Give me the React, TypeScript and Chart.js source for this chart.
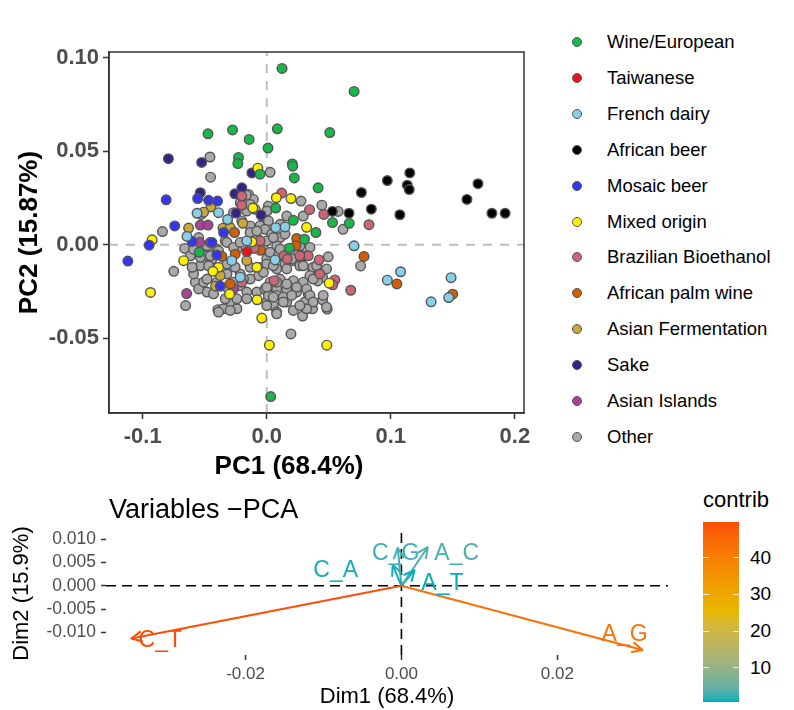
import React, { useEffect, useRef } from "react";
import { Chart, registerables } from "chart.js";
Chart.register(...registerables);

const FONT = '"Liberation Sans", Arial, Helvetica, sans-serif';
Chart.defaults.font.family = FONT;

// ---------------- PCA of samples (top) ----------------
const groupNames = [
  "Wine/European", "Taiwanese", "French dairy", "African beer", "Mosaic beer", "Mixed origin",
  "Brazilian Bioethanol", "African palm wine", "Asian Fermentation", "Sake", "Asian Islands", "Other",
];
const groupColors = [
  "#17B84B", "#E8141A", "#87CEEB", "#000000", "#3236F0", "#FFF000",
  "#CC6677", "#D55E00", "#C9A93C", "#332288", "#AA4499", "#A9A9A9",
];

const wineEuropean = [[0.0123,0.0943],[0.0704,0.0820],[-0.0474,0.0593],[-0.0276,0.0614],[-0.0142,0.0563],[0.0085,0.0620],[0.0010,0.0517],[0.0508,0.0600],[-0.0228,0.0467],[-0.0233,0.0434],[0.0206,0.0432],[0.0209,0.0420],[0.0222,0.0357],[-0.0054,0.0377],[0.0414,0.0304],[0.0072,0.0196],[0.0214,0.0130],[0.0530,0.0118],[0.0665,0.0114],[0.0396,0.0065],[0.0304,0.0029],[0.0182,-0.0019],[-0.0544,-0.0041],[0.0032,-0.0813]];
const taiwanese = [[-0.0161,-0.0037]];
const frenchDairy = [[0.0704,-0.0006],[0.1079,-0.0145],[0.0972,-0.0190],[0.1486,-0.0177],[0.1325,-0.0306],[0.1467,-0.0283],[0.0147,0.0095],[0.0067,-0.0082],[-0.0562,0.0168],[-0.0389,0.0171],[0.0072,0.0091],[-0.0282,-0.0086],[-0.0161,0.0020],[-0.0643,0.0044],[-0.0316,0.0134],[-0.0214,-0.0174]];
const africanBeer = [[0.1153,0.0384],[0.0972,0.0343],[0.1133,0.0318],[0.1149,0.0295],[0.0763,0.0279],[0.1703,0.0326],[0.1614,0.0242],[0.1815,0.0168],[0.1922,0.0168],[0.0843,0.0190],[0.1073,0.0160],[0.0663,0.0168],[0.0529,0.0178]];
const mosaicBeer = [[-0.1120,-0.0088],[-0.0948,-0.0003],[-0.0742,0.0100],[-0.0811,0.0240],[-0.0557,0.0247],[-0.0469,0.0237],[-0.0397,0.0233],[-0.0602,0.0017],[-0.0442,0.0012],[-0.0375,-0.0222],[-0.0348,0.0065],[-0.0402,-0.0056]];
const mixedOrigin = [[-0.0924,0.0026],[-0.0937,-0.0256],[-0.0670,-0.0086],[-0.0072,0.0409],[0.0077,0.0251],[0.0195,0.0247],[-0.0112,0.0196],[0.0321,0.0093],[0.0503,-0.0206],[0.0484,-0.0538],[-0.0040,-0.0393],[0.0021,-0.0538],[-0.0078,-0.0295],[-0.0389,-0.0121],[-0.0434,-0.0143],[-0.0300,-0.0265],[-0.0080,-0.0121],[-0.0120,0.0015]];
const brazilianBioethanol = [[0.0120,0.0276],[0.0345,0.0187],[-0.0201,0.0212],[0.0460,0.0162],[0.0824,0.0107],[0.0677,-0.0244],[0.0549,-0.0189],[0.0532,-0.0215],[0.0422,-0.0082],[0.0334,-0.0060],[0.0139,-0.0060],[0.0165,-0.0077],[0.0059,-0.0193],[0.0428,-0.0157],[-0.0102,-0.0020],[-0.0201,-0.0201],[-0.0054,0.0020],[0.0267,-0.0060],[-0.0201,0.0260]];
const africanPalmWine = [[0.0784,-0.0063],[0.1049,-0.0210],[0.1499,-0.0265],[0.0241,0.0033],[0.0235,-0.0006],[-0.0361,-0.0063],[-0.0255,-0.0051],[-0.0260,0.0065],[-0.0050,-0.0030],[-0.0295,-0.0210]];
const asianFermentation = [[-0.0450,0.0202],[-0.0528,0.0162],[-0.0630,0.0089],[-0.0375,-0.0166],[-0.0413,-0.0222],[-0.0161,-0.0086],[-0.0353,0.0088],[-0.0295,0.0091],[-0.0509,0.0174],[-0.0193,0.0114]];
const sake = [[-0.0793,0.0460],[-0.0525,0.0440],[-0.0120,0.0384],[-0.0536,0.0278],[-0.0257,0.0272],[-0.0201,0.0304],[-0.0247,0.0169],[-0.0046,0.0159]];
const asianIslands = [[-0.0646,-0.0262],[-0.0536,0.0105],[-0.0474,0.0105],[-0.0268,-0.0237],[-0.0541,0.0012],[-0.0455,0.0012]];
const other = [[-0.0458,0.0469],[-0.0453,0.0361],[0.0027,0.0387],[0.0276,0.0233],[0.0005,0.0184],[0.0575,0.0178],[0.0444,0.0211],[0.0615,0.0082],[0.0757,-0.0114],[0.0495,-0.0065],[0.0369,-0.0127],[0.0450,-0.0174],[0.0410,-0.0194],[0.0334,-0.0263],[0.0308,-0.0307],[0.0450,-0.0295],[0.0487,-0.0345],[0.0369,-0.0343],[0.0289,-0.0382],[0.0195,-0.0478],[-0.0841,0.0070],[-0.0750,-0.0143],[-0.0654,-0.0326],[-0.0394,-0.0348],[-0.0300,-0.0348],[-0.0263,-0.0334],[-0.0662,-0.0020],
[-0.0148,0.0269],[-0.0108,0.0242],[-0.0161,0.0180],[-0.0094,0.0189],[-0.0201,0.0127],[-0.0134,0.0100],[-0.0054,0.0100],[-0.0080,0.0038],[-0.0027,-0.0024],[0.0000,-0.0077],[-0.0040,-0.0121],[-0.0067,-0.0166],[-0.0134,-0.0184],[-0.0214,-0.0157],[-0.0255,-0.0121],[-0.0321,-0.0104],[-0.0321,-0.0157],[-0.0214,-0.0219],[-0.0295,-0.0307],[-0.0241,-0.0343],[-0.0349,-0.0343],[-0.0482,-0.0254],[-0.0576,-0.0201],[-0.0590,-0.0157],[-0.0536,-0.0113],[-0.0616,-0.0060],[-0.0549,0.0038],[-0.0482,-0.0006],[-0.0442,-0.0077],[-0.0335,0.0020],[-0.0402,-0.0024],[-0.0241,-0.0024],[-0.0134,-0.0121],[0.0000,-0.0246],[0.0000,-0.0307],[-0.0080,-0.0254],[-0.0161,-0.0254],[-0.0549,-0.0237],[-0.0509,-0.0201],[-0.0602,-0.0121],[-0.0496,-0.0060],[-0.0469,-0.0113],[-0.0308,0.0100],[-0.0268,0.0171],[-0.0040,0.0153],[0.0013,0.0206],[-0.0134,0.0215],[-0.0214,0.0224],[-0.0389,-0.0361],[-0.0295,-0.0352],
[0.0000,0.0180],[0.0013,0.0127],[-0.0014,0.0082],[0.0040,0.0056],[0.0000,0.0020],[0.0107,0.0038],[0.0080,-0.0006],[0.0027,-0.0041],[0.0093,-0.0060],[0.0187,-0.0033],[0.0267,-0.0006],[0.0348,-0.0015],[0.0294,-0.0060],[0.0214,-0.0086],[0.0147,-0.0104],[0.0080,-0.0130],[0.0000,-0.0104],[0.0267,-0.0113],[0.0374,-0.0121],[0.0482,-0.0130],[0.0348,-0.0166],[0.0294,-0.0201],[0.0214,-0.0193],[0.0107,-0.0184],[0.0027,-0.0201],[-0.0014,-0.0237],[0.0080,-0.0237],[0.0161,-0.0237],[0.0241,-0.0254],[0.0321,-0.0237],[0.0348,-0.0272],[0.0455,-0.0272],[0.0374,-0.0307],[0.0321,-0.0343],[0.0161,-0.0307],[0.0080,-0.0272],[0.0053,-0.0326],[0.0080,-0.0361],[0.0000,-0.0326],[0.0214,-0.0352],[0.0482,-0.0334],[0.0013,-0.0272],
[-0.0590,-0.0024],[-0.0536,-0.0068],[-0.0455,-0.0060],[-0.0389,-0.0033],[-0.0321,0.0012],[-0.0268,-0.0015],[-0.0214,0.0012],[-0.0134,0.0065],[-0.0080,0.0073],[0.0107,0.0109],[0.0053,0.0038],[0.0147,0.0056],[0.0107,-0.0024],[0.0201,-0.0077],[0.0294,-0.0113],[0.0161,-0.0130],[0.0053,-0.0113],[-0.0027,-0.0148],[-0.0188,-0.0184],[-0.0268,-0.0201],[-0.0321,-0.0228],[-0.0402,-0.0201],[-0.0482,-0.0184],[-0.0429,-0.0263],[-0.0335,-0.0290],[-0.0241,-0.0290],[-0.0161,-0.0290],[0.0000,-0.0228],[0.0080,-0.0201],[0.0161,-0.0210],[0.0241,-0.0228],[0.0267,-0.0326],[0.0133,-0.0281],[0.0053,-0.0281],[0.0080,-0.0370],[0.0133,-0.0307],[0.0201,-0.0272],[0.0374,-0.0184],[0.0402,-0.0113],
[-0.0166,0.0265],[0.0161,0.0153],[0.0294,0.0153]];

const groupData = [wineEuropean, taiwanese, frenchDairy, africanBeer, mosaicBeer, mixedOrigin,
  brazilianBioethanol, africanPalmWine, asianFermentation, sake, asianIslands, other];

const pcXTicks = [-0.1, 0.0, 0.1, 0.2];
const pcYTicks = [-0.05, 0.0, 0.05, 0.10];
const pcXRange = [-0.1272, 0.2074];
const pcYRange = [-0.0901, 0.1031];

// ---------------- Variables PCA (bottom) ----------------
const varNames = ["C_T", "A_G", "C_A", "C_G", "A_C", "A_T"];
const varDim1 = [-0.03465, 0.03094, -0.00112, -0.00047, 0.00337, 0.00167];
const varDim2 = [-0.01127, -0.01374, 0.00444, 0.00810, 0.00825, 0.00332];
const varContrib = [49.8, 43.5, 0.9, 2.2, 3.0, 0.74];
const varLabelOffsets = [[29, 2], [-18, -15], [-57, 6], [-2, 6], [29, 6.5], [28, 13]];
const dimXTicks = [-0.02, 0.0, 0.02];
const dimYTicks = [-0.010, -0.005, 0.0, 0.005, 0.010];
const dimXRange = [-0.0379, 0.0342];
const dimYRange = [-0.0148, 0.0115];
const contribTicks = [10, 20, 30, 40];
const gradientColors = ["#00AFBB", "#E7B800", "#FC4E07"];

// ---- colour helpers (Lab interpolation like ggplot's gradientn) ----
function hexToRgb(h: string) { const n = parseInt(h.slice(1), 16); return [(n >> 16) & 255, (n >> 8) & 255, n & 255]; }
function toLin(c: number) { c /= 255; return c <= 0.04045 ? c / 12.92 : Math.pow((c + 0.055) / 1.055, 2.4); }
function fromLin(c: number) { const v = c <= 0.0031308 ? 12.92 * c : 1.055 * Math.pow(Math.max(c, 0), 1 / 2.4) - 0.055; return Math.round(Math.min(1, Math.max(0, v)) * 255); }
function rgbToLab(hex: string) {
  const [r, g, b] = hexToRgb(hex).map(toLin);
  const X = (0.4124564 * r + 0.3575761 * g + 0.1804375 * b) / 0.95047;
  const Y = 0.2126729 * r + 0.7151522 * g + 0.072175 * b;
  const Z = (0.0193339 * r + 0.119192 * g + 0.9503041 * b) / 1.08883;
  const f = (t: number) => (t > 216 / 24389 ? Math.cbrt(t) : ((24389 / 27) * t + 16) / 116);
  const fx = f(X), fy = f(Y), fz = f(Z);
  return [116 * fy - 16, 500 * (fx - fy), 200 * (fy - fz)];
}
function labToCss(L: number, a: number, b: number) {
  const fy = (L + 16) / 116, fx = fy + a / 500, fz = fy - b / 200;
  const finv = (t: number) => (t * t * t > 216 / 24389 ? t * t * t : (116 * t - 16) / (24389 / 27));
  const X = finv(fx) * 0.95047, Y = finv(fy), Z = finv(fz) * 1.08883;
  const r = 3.2404542 * X - 1.5371385 * Y - 0.4985314 * Z;
  const g = -0.969266 * X + 1.8760108 * Y + 0.041556 * Z;
  const bb = 0.0556434 * X - 0.2040259 * Y + 1.0572252 * Z;
  return `rgb(${fromLin(r)},${fromLin(g)},${fromLin(bb)})`;
}
const labStops = gradientColors.map(rgbToLab);
const cMin = Math.min(...varContrib), cMax = Math.max(...varContrib);
function contribColor(v: number) {
  let t = (v - cMin) / (cMax - cMin);
  t = Math.min(1, Math.max(0, t));
  const seg = t < 0.5 ? 0 : 1;
  const u = seg === 0 ? t * 2 : (t - 0.5) * 2;
  const A = labStops[seg], B = labStops[seg + 1];
  return labToCss(A[0] + (B[0] - A[0]) * u, A[1] + (B[1] - A[1]) * u, A[2] + (B[2] - A[2]) * u);
}

// ---------------- plugins ----------------
const topDecor = {
  id: "topDecor",
  beforeDatasetsDraw(chart: any) {
    const { ctx, chartArea: a, scales: { x, y } } = chart;
    ctx.save();
    ctx.strokeStyle = "#BEBEBE"; ctx.lineWidth = 2; ctx.setLineDash([9, 8]);
    const x0 = x.getPixelForValue(0), y0 = y.getPixelForValue(0);
    ctx.beginPath(); ctx.moveTo(x0, a.bottom); ctx.lineTo(x0, a.top); ctx.stroke();
    ctx.beginPath(); ctx.moveTo(a.left, y0); ctx.lineTo(a.right, y0); ctx.stroke();
    ctx.restore();
  },
  afterDraw(chart: any) {
    const { ctx, chartArea: a } = chart;
    ctx.save(); ctx.strokeStyle = "#333333"; ctx.lineWidth = 1.5;
    ctx.strokeRect(a.left, a.top, a.right - a.left, a.bottom - a.top);
    ctx.restore();
  },
};

const bottomDecor = {
  id: "bottomDecor",
  beforeDatasetsDraw(chart: any) {
    const { ctx, chartArea: a, scales: { x, y } } = chart;
    ctx.save();
    ctx.strokeStyle = "#000000"; ctx.lineWidth = 1.6; ctx.setLineDash([10, 6]);
    const x0 = x.getPixelForValue(0), y0 = y.getPixelForValue(0);
    ctx.beginPath(); ctx.moveTo(x0, a.bottom); ctx.lineTo(x0, a.top); ctx.stroke();
    ctx.beginPath(); ctx.moveTo(a.left, y0); ctx.lineTo(a.right, y0); ctx.stroke();
    ctx.restore();
  },
  afterDatasetsDraw(chart: any) {
    const { ctx, scales: { x, y } } = chart;
    chart.data.datasets.forEach((ds: any, i: number) => {
      const p0 = ds.data[0], p1 = ds.data[1];
      const x0 = x.getPixelForValue(p0.x), y0 = y.getPixelForValue(p0.y);
      const x1 = x.getPixelForValue(p1.x), y1 = y.getPixelForValue(p1.y);
      const ang = Math.atan2(y1 - y0, x1 - x0);
      const L = 11, A = Math.PI / 7;
      ctx.save();
      ctx.strokeStyle = ds.borderColor; ctx.lineWidth = 2; ctx.lineCap = "round"; ctx.lineJoin = "round";
      ctx.beginPath();
      ctx.moveTo(x1 - L * Math.cos(ang - A), y1 - L * Math.sin(ang - A));
      ctx.lineTo(x1, y1);
      ctx.lineTo(x1 - L * Math.cos(ang + A), y1 - L * Math.sin(ang + A));
      ctx.stroke();
      ctx.fillStyle = ds.borderColor;
      ctx.font = `23px ${FONT}`; ctx.textAlign = "center"; ctx.textBaseline = "middle";
      const off = varLabelOffsets[i];
      ctx.fillText(ds.label, x1 + off[0], y1 + off[1]);
      ctx.restore();
    });
  },
};

export default function App() {
  const topRef = useRef<HTMLCanvasElement>(null);
  const botRef = useRef<HTMLCanvasElement>(null);

  useEffect(() => {
    const top = new Chart(topRef.current as HTMLCanvasElement, {
      type: "scatter",
      data: {
        datasets: groupNames.map((name, i) => ({
          label: name,
          data: groupData[i].map(([x, y]) => ({ x, y })),
          backgroundColor: groupColors[i],
          borderColor: "#555555",
          borderWidth: 1.4,
          pointRadius: 4.8,
          pointHoverRadius: 4.8,
        })),
      },
      options: {
        responsive: false,
        animation: false,
        events: [],
        layout: { padding: { top: 52, right: 21, left: 0, bottom: 0 } },
        plugins: { legend: { display: false }, tooltip: { enabled: false } },
        scales: {
          x: {
            type: "linear", min: pcXRange[0], max: pcXRange[1],
            afterFit: (s: any) => { s.height = 67; },
            afterBuildTicks: (s: any) => { s.ticks = pcXTicks.map((v) => ({ value: v })); },
            ticks: { callback: (v: any) => Number(v).toFixed(1), font: { size: 22, weight: "bold" }, color: "#4D4D4D", padding: 5, maxRotation: 0, autoSkip: false },
            grid: { display: true, drawOnChartArea: false, drawTicks: true, tickLength: 6, tickColor: "#333333", tickWidth: 1.5 },
            border: { display: true, color: "#333333", width: 1.5 },
            title: { display: false },
          },
          y: {
            type: "linear", min: pcYRange[0], max: pcYRange[1],
            afterFit: (s: any) => { s.width = 109; },
            afterBuildTicks: (s: any) => { s.ticks = pcYTicks.map((v) => ({ value: v })); },
            ticks: { callback: (v: any) => Number(v).toFixed(2), font: { size: 22, weight: "bold" }, color: "#4D4D4D", padding: 4, autoSkip: false },
            grid: { display: true, drawOnChartArea: false, drawTicks: true, tickLength: 6, tickColor: "#333333", tickWidth: 1.5 },
            border: { display: true, color: "#333333", width: 1.5 },
            title: { display: true, text: "PC2 (15.87%)", font: { size: 26, weight: "bold" }, color: "#000000", padding: { top: 14, bottom: 0 } },
          },
        },
      } as any,
      plugins: [topDecor],
    });

    const bottom = new Chart(botRef.current as HTMLCanvasElement, {
      type: "scatter",
      data: {
        datasets: varNames.map((name, i) => ({
          label: name,
          data: [{ x: 0, y: 0 }, { x: varDim1[i], y: varDim2[i] }],
          showLine: true,
          borderColor: contribColor(varContrib[i]),
          backgroundColor: contribColor(varContrib[i]),
          borderWidth: 2,
          pointRadius: 0,
          pointHoverRadius: 0,
        })),
      },
      options: {
        responsive: false,
        animation: false,
        events: [],
        layout: { padding: { top: 52, right: 22, left: 0, bottom: 0 } },
        plugins: { legend: { display: false }, tooltip: { enabled: false } },
        scales: {
          x: {
            type: "linear", min: dimXRange[0], max: dimXRange[1],
            afterFit: (s: any) => { s.height = 55; },
            afterBuildTicks: (s: any) => { s.ticks = dimXTicks.map((v) => ({ value: v })); },
            ticks: { callback: (v: any) => Number(v).toFixed(2), font: { size: 17 }, color: "#4D4D4D", padding: 4, maxRotation: 0, autoSkip: false },
            grid: { display: true, drawOnChartArea: false, drawTicks: true, tickLength: 5, tickColor: "#333333", tickWidth: 1.5 },
            border: { display: false },
            title: { display: true, text: "Dim1 (68.4%)", font: { size: 22 }, color: "#000000", padding: { top: 0, bottom: 0 } },
          },
          y: {
            type: "linear", min: dimYRange[0], max: dimYRange[1],
            afterFit: (s: any) => { s.width = 106; },
            afterBuildTicks: (s: any) => { s.ticks = dimYTicks.map((v) => ({ value: v })); },
            ticks: { callback: (v: any) => Number(v).toFixed(3), font: { size: 17.5 }, color: "#4D4D4D", padding: 5, autoSkip: false },
            grid: { display: true, drawOnChartArea: false, drawTicks: true, tickLength: 5, tickColor: "#333333", tickWidth: 1.5 },
            border: { display: false },
            title: { display: true, text: "Dim2 (15.9%)", font: { size: 22 }, color: "#000000", padding: { top: 9, bottom: 0 } },
          },
        },
      } as any,
      plugins: [bottomDecor],
    });

    return () => { top.destroy(); bottom.destroy(); };
  }, []);

  // colour bar geometry
  const barTop = 521.7, barBottom = 701.7, barLeft = 703, barWidth = 36;
  const valToY = (v: number) => barBottom - ((v - cMin) / (cMax - cMin)) * (barBottom - barTop);
  const gradStops: string[] = [];
  for (let k = 0; k <= 20; k++) {
    const v = cMin + ((cMax - cMin) * k) / 20;
    gradStops.push(`${contribColor(v)} ${(k / 20) * 100}%`);
  }

  return (
    <div style={{ position: "absolute", left: 0, top: 0, width: 794, height: 710, overflow: "hidden", background: "#ffffff", fontFamily: FONT }}>
      <canvas ref={topRef} width={545} height={480} style={{ position: "absolute", left: 0, top: 0, width: 545, height: 480 }} />
      <canvas ref={botRef} width={690} height={230} style={{ position: "absolute", left: 0, top: 480, width: 690, height: 230 }} />

      {/* x-axis title of the sample PCA */}
      <div style={{ position: "absolute", left: 139, top: 450, width: 300, textAlign: "center", lineHeight: "30px", fontSize: 26, fontWeight: "bold", color: "#000", whiteSpace: "nowrap" }}>PC1 (68.4%)</div>

      {/* legend for groups */}
      {groupNames.map((name, i) => {
        const cy = 42.3 + i * 35.85;
        return (
          <div key={name}>
            <div style={{ position: "absolute", left: 572, top: cy - 5, width: 10, height: 10, borderRadius: "50%", boxSizing: "border-box", border: "1.2px solid #555555", background: groupColors[i] }} />
            <div style={{ position: "absolute", left: 607, top: cy - 11, height: 22, lineHeight: "22px", fontSize: 18.5, color: "#000", whiteSpace: "nowrap" }}>{name}</div>
          </div>
        );
      })}

      {/* bottom plot title */}
      <div style={{ position: "absolute", left: 109, top: 494, lineHeight: "30px", fontSize: 27, color: "#000", whiteSpace: "nowrap" }}>Variables −PCA</div>

      {/* contrib colour bar */}
      <div style={{ position: "absolute", left: 703, top: 488, lineHeight: "24px", fontSize: 22, color: "#000" }}>contrib</div>
      <div style={{ position: "absolute", left: barLeft, top: barTop, width: barWidth, height: barBottom - barTop, background: `linear-gradient(to top, ${gradStops.join(", ")})` }} />
      {contribTicks.map((v) => (
        <div key={v}>
          <div style={{ position: "absolute", left: barLeft, top: valToY(v) - 0.5, width: 6, height: 1, background: "rgba(255,255,255,0.8)" }} />
          <div style={{ position: "absolute", left: barLeft + barWidth - 6, top: valToY(v) - 0.5, width: 6, height: 1, background: "rgba(255,255,255,0.8)" }} />
          <div style={{ position: "absolute", left: 750, top: valToY(v) - 10, lineHeight: "20px", fontSize: 19, color: "#000" }}>{v}</div>
        </div>
      ))}
    </div>
  );
}
